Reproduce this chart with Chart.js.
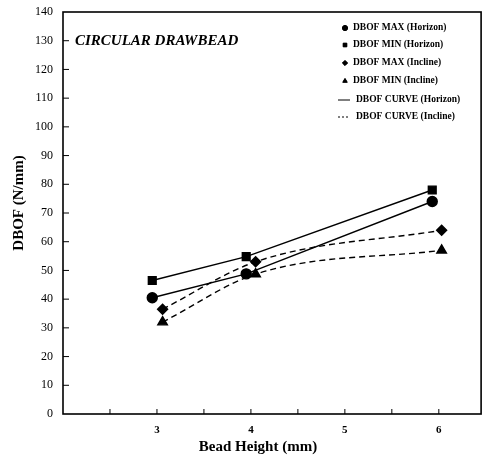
<!DOCTYPE html>
<html>
<head>
<meta charset="utf-8">
<script src="https://cdn.jsdelivr.net/npm/chart.js@4"></script>
<style>
  html, body { margin: 0; padding: 0; background: #fff; }
  #wrap { width: 488px; height: 461px; }
</style>
</head>
<body>
<div id="wrap"><canvas id="dbofChart" width="488" height="461"></canvas></div>
<script>
// values
const horizonX = [2.95, 3.95, 5.93];
const inclineX = [3.06, 4.05, 6.03];
const maxHorizon = [40.5, 48.8, 74];
const minHorizon = [46.5, 54.8, 78];
const maxIncline = [36.5, 53, 64];
const minIncline = [32, 48.7, 57];
const xTickValues = [2.5, 3, 3.5, 4, 4.5, 5, 5.5, 6];
const xTickLabels = [3, 4, 5, 6];

const serif = '"Liberation Serif", "DejaVu Serif", serif';

function pts(xs, ys) {
  return xs.map((x, i) => ({ x: x, y: ys[i] }));
}

const legendItems = [
  { text: 'DBOF MAX (Horizon)', marker: 'circle' },
  { text: 'DBOF MIN (Horizon)', marker: 'rect' },
  { text: 'DBOF MAX (Incline)', marker: 'rectRot' },
  { text: 'DBOF MIN (Incline)', marker: 'triangle' },
  { text: 'DBOF CURVE (Horizon)', line: [] },
  { text: 'DBOF CURVE (Incline)', line: [2, 2] }
];

const decor = {
  id: 'decor',
  afterDraw(chart) {
    const ctx = chart.ctx;
    const a = chart.chartArea;
    const xs = chart.scales.x, ys = chart.scales.y;
    ctx.save();
    ctx.strokeStyle = '#000';
    ctx.lineWidth = 1.6;
    ctx.strokeRect(a.left, a.top, a.right - a.left, a.bottom - a.top);
    ctx.lineWidth = 1;
    // inward ticks
    for (let v = 10; v < 140; v += 10) {
      const y = ys.getPixelForValue(v);
      ctx.beginPath(); ctx.moveTo(a.left, y); ctx.lineTo(a.left + 6, y); ctx.stroke();
    }
    xTickValues.forEach(v => {
      const x = xs.getPixelForValue(v);
      ctx.beginPath(); ctx.moveTo(x, a.bottom); ctx.lineTo(x, a.bottom - 5); ctx.stroke();
    });
    ctx.fillStyle = '#000';
    // axis titles (both sit a little off centre in the original)
    ctx.font = 'bold 15px ' + serif;
    ctx.textAlign = 'center';
    ctx.textBaseline = 'middle';
    ctx.fillText('Bead Height (mm)', 258, 447);
    ctx.save();
    ctx.translate(19, 203);
    ctx.rotate(-Math.PI / 2);
    ctx.fillText('DBOF (N/mm)', 0, 0);
    ctx.restore();
    ctx.textAlign = 'left';
    // title inside plot
    ctx.font = 'italic bold 15px ' + serif;
    ctx.fillText('CIRCULAR DRAWBEAD', 75, 41);
    // legend
    ctx.font = 'bold 9.5px ' + serif;
    const rows = [28, 45, 63, 81, 100, 117];
    legendItems.forEach((it, i) => {
      const y = rows[i];
      if (it.marker) {
        Chart.helpers.drawPoint(ctx, { pointStyle: it.marker, radius: 2.6, borderWidth: 1 }, 345, y);
        ctx.fill();
        ctx.fillText(it.text, 353, y);
      } else {
        ctx.setLineDash(it.line);
        ctx.beginPath(); ctx.moveTo(338, y); ctx.lineTo(350, y); ctx.stroke();
        ctx.setLineDash([]);
        ctx.fillText(it.text, 356, y);
      }
    });
    ctx.restore();
  }
};

const solid = { borderColor: '#000', backgroundColor: '#000', borderWidth: 1.4, showLine: true, tension: 0 };
const dashed = { borderColor: '#000', backgroundColor: '#000', borderWidth: 1.4, showLine: true, borderDash: [6, 4], cubicInterpolationMode: 'monotone' };

new Chart(document.getElementById('dbofChart'), {
  type: 'scatter',
  data: {
    datasets: [
      Object.assign({ label: 'DBOF MAX (Horizon)', data: pts(horizonX, maxHorizon), pointStyle: 'circle', pointRadius: 5 }, solid),
      Object.assign({ label: 'DBOF MIN (Horizon)', data: pts(horizonX, minHorizon), pointStyle: 'rect', pointRadius: 5.5 }, solid),
      Object.assign({ label: 'DBOF MAX (Incline)', data: pts(inclineX, maxIncline), pointStyle: 'rectRot', pointRadius: 5 }, dashed),
      Object.assign({ label: 'DBOF MIN (Incline)', data: pts(inclineX, minIncline), pointStyle: 'triangle', pointRadius: 5.5 }, dashed)
    ]
  },
  options: {
    responsive: false,
    animation: false,
    layout: { padding: { top: 12, right: 6, left: 10, bottom: 0 } },
    plugins: { legend: { display: false }, tooltip: { enabled: false } },
    scales: {
      x: {
        type: 'linear', min: 2, max: 6.45,
        border: { display: false },
        grid: { display: false },
        afterFit(s) { s.height = 47; },
        afterBuildTicks(s) { s.ticks = xTickLabels.map(v => ({ value: v })); },
        ticks: { color: '#000', padding: 2, font: { family: serif, size: 11, weight: 'bold' }, callback: v => v },
        title: { display: false }
      },
      y: {
        min: 0, max: 140,
        border: { display: false },
        grid: { display: false },
        afterFit(s) { s.width = 53; },
        ticks: { stepSize: 10, color: '#000', padding: 2, font: { family: serif, size: 12 } },
        title: { display: false }
      }
    }
  },
  plugins: [decor]
});
</script>
</body>
</html>
